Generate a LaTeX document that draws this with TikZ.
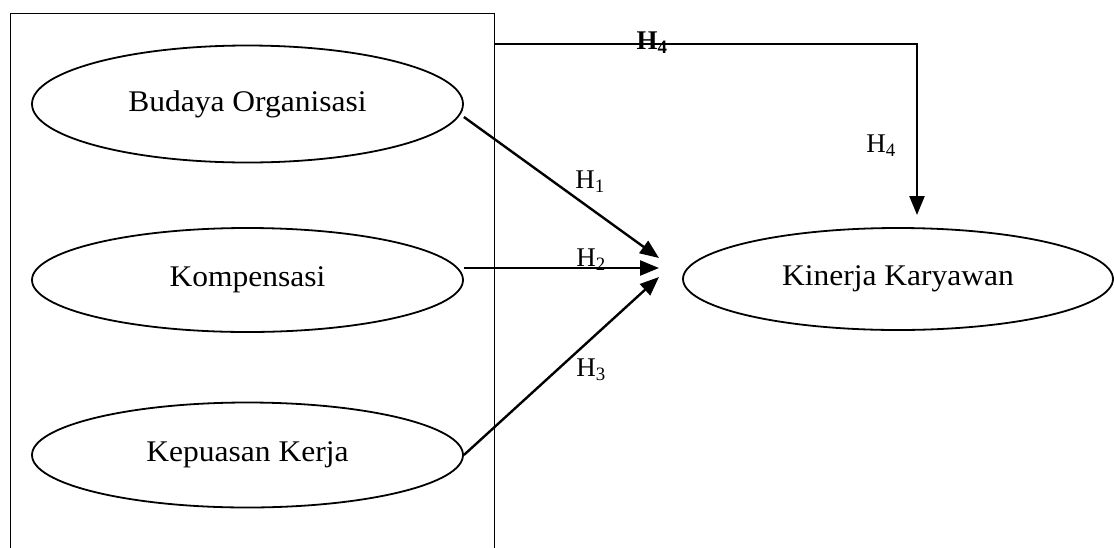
\documentclass[tikz,border=0pt]{standalone}
\usepackage{fontspec}
\setmainfont{Liberation Serif}
\newfontfamily\wideserif{Liberation Serif}[FakeStretch=1.05]
\usetikzlibrary{shapes.geometric,arrows.meta,calc}
\begin{document}
\begin{tikzpicture}[x=1pt,y=-1pt,
  varbox/.style={draw,line width=1.8pt,ellipse,inner sep=0pt,
    font=\wideserif\fontsize{30}{34}\selectfont},
  arr/.style={line width=2.4pt,-{Triangle[length=19pt,width=15pt]}},
  hlab/.style={font=\fontsize{27}{30}\selectfont,inner sep=0pt}]
\useasboundingbox (0,0) rectangle (1114,547);
\clip (0,0) rectangle (1114,547);
\fill[white] (0,0) rectangle (1114,547);
% group frame
\node[draw,line width=1.6pt,minimum width=484pt,minimum height=560pt,
  anchor=north west,inner sep=0pt] (grp) at (9.5,12.5) {};
% variables
\node[varbox,minimum width=431pt,minimum height=117pt] (bo) at (247.5,104) {Budaya Organisasi};
\node[varbox,minimum width=431pt,minimum height=104pt] (ko) at (247.5,280) {Kompensasi};
\node[varbox,minimum width=431pt,minimum height=105pt] (kk) at (247.5,455) {Kepuasan Kerja};
\node[varbox,minimum width=430pt,minimum height=102pt] (kin) at (898,279) {Kinerja Karyawan};
% arrow tips
\coordinate (t1) at (659,258);
\coordinate (t2) at (659,268);
\coordinate (t3) at (659,277);
\coordinate (t4) at (917,215);
\coordinate (s1) at ($(bo.east)+(0,13)$);
\coordinate (s2) at ($(ko.east)+(0,-12)$);
\coordinate (s4) at ($(grp.north east)+(0,31.5)$);
% connectors
\draw[arr] (s1) -- (t1);
\draw[arr] (s2) -- (t2);
\draw[arr] (kk.east) -- (t3);
\draw[arr] (s4) -| (t4);
% labels
\node[hlab] (l1) at (590,182) {H\textsubscript{1}};
\node[hlab] (l2) at (591,260) {H\textsubscript{2}};
\node[hlab] (l3) at (591,370) {H\textsubscript{3}};
\node[hlab] (l4) at (881,146) {H\textsubscript{4}};
\node[hlab,font=\bfseries\fontsize{27}{30}\selectfont] (l4b) at (652,43) {H\textsubscript{4}};
\end{tikzpicture}
\end{document}
